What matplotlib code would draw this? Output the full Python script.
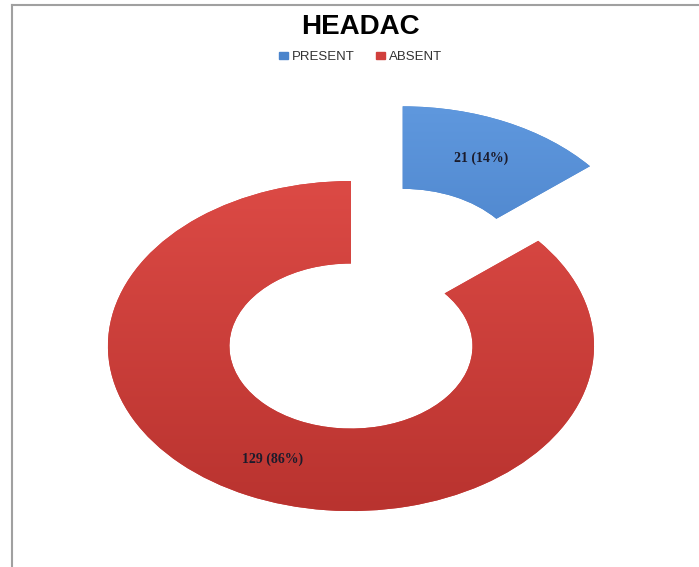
import matplotlib
matplotlib.use('Agg')
import numpy as np
import matplotlib.pyplot as plt
from matplotlib.lines import Line2D
from matplotlib.patches import Rectangle
from matplotlib.colors import LinearSegmentedColormap

# headache counts
categories = ['PRESENT', 'ABSENT']
counts = [21, 129]
colors = ['#4a84cc', '#d13f3c']
# light/dark shades for the vertical shading of each slice
shades = [('#5f98de', '#3a70b8'), ('#dc4a45', '#b9332f')]


def label_fmt(pct):
    n = int(round(pct * sum(counts) / 100.0))
    return '%d (%d%%)' % (n, round(pct))


def main():
    fig = plt.figure(figsize=(6.99, 5.67), dpi=100)
    ax = fig.add_axes([0, 0, 1, 1])

    wedges, texts, autotexts = ax.pie(
        counts, colors=colors, startangle=90, counterclock=False,
        explode=[0.5, 0], autopct=label_fmt, pctdistance=0.76,
        wedgeprops=dict(width=0.5, linewidth=0),
        textprops=dict(family='Liberation Serif', weight='bold',
                       fontsize=10, color='#1b1b2b'))

    # shade each slice from light at the top to dark at the bottom
    grad = np.linspace(0, 1, 256).reshape(-1, 1)
    for w, (light, dark) in zip(wedges, shades):
        cmap = LinearSegmentedColormap.from_list('s', [light, dark])
        cx, cy = w.center
        r = w.r
        im = ax.imshow(grad, cmap=cmap, origin='upper', aspect='auto',
                       extent=(cx - r, cx + r, cy - r, cy + r), zorder=w.get_zorder())
        im.set_clip_path(w)
    for t in autotexts:
        t.set_zorder(5)

    # stretch the ring into an ellipse
    ax.set_aspect('auto')
    ax.set_xlim(-1.444, 1.432)
    ax.set_ylim(-1.339, 2.097)
    ax.axis('off')

    fig.text(0.516, 0.952, 'HEADAC', ha='center', va='center',
             family='Liberation Sans', weight='bold', fontsize=20)

    handles = [Rectangle((0, 0), 1, 1, color=c) for c in colors]
    fig.legend(handles, categories, loc='center', bbox_to_anchor=(0.516, 0.899),
               ncol=2, frameon=False, handlelength=0.7,
               handleheight=0.5, handletextpad=0.3, columnspacing=1.6,
               labelcolor='#333333',
               prop=dict(family='Liberation Sans', size=9.5))

    # frame lines on top and left
    fig.add_artist(Line2D([0.017, 1.0], [0.991, 0.991], color='#a0a0a0', lw=1.5))
    fig.add_artist(Line2D([0.017, 0.017], [0.0, 0.991], color='#a0a0a0', lw=1.5))

    fig.savefig('out.png', dpi=100, facecolor='white')


if __name__ == "__main__":
    main()
